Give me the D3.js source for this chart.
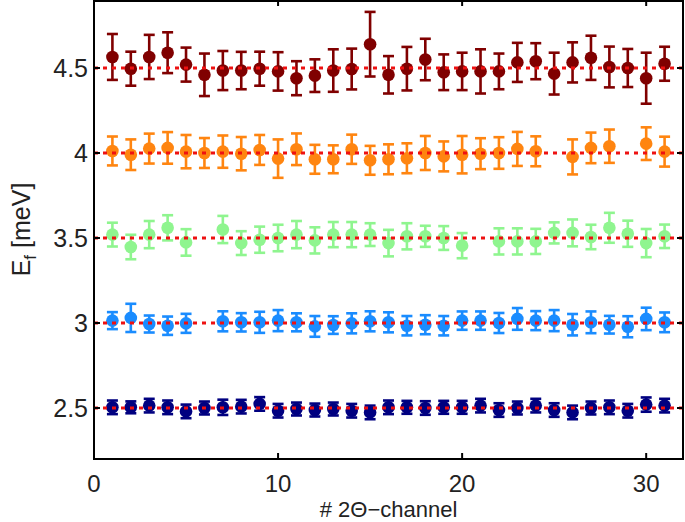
<!DOCTYPE html>
<html><head><meta charset="utf-8">
<script src="https://cdn.jsdelivr.net/npm/d3@7"></script>
<style>
html,body{margin:0;padding:0;background:#fff;}
svg{display:block;font-family:"Liberation Sans",Arial,Helvetica,sans-serif;}
</style></head>
<body>
<script>
// ---- data ----
const channels = d3.range(1, 32);
const nominal = [2.5, 3.0, 3.5, 4.0, 4.5];
const xTicks = [0, 10, 20, 30];
const yTicks = [2.5, 3, 3.5, 4, 4.5];
const seriesColors = ["#000080", "#1a8cff", "#8ff58f", "#ff8510", "#800000"];

const ef25 = [2.504,2.504,2.514,2.504,2.48,2.5,2.504,2.508,2.524,2.484,2.494,2.488,2.494,2.484,2.474,2.504,2.504,2.5,2.504,2.504,2.514,2.488,2.5,2.514,2.488,2.474,2.5,2.504,2.484,2.52,2.514];
const err25 = [0.04,0.035,0.04,0.04,0.04,0.038,0.045,0.04,0.04,0.04,0.038,0.038,0.038,0.04,0.04,0.04,0.038,0.04,0.038,0.038,0.04,0.04,0.038,0.04,0.04,0.04,0.038,0.04,0.04,0.042,0.04];

const ef30 = [3.014,3.03,2.994,2.984,2.998,null,3.01,3.004,3.004,3.014,3.004,2.98,2.988,2.998,3.01,3.004,2.984,2.99,2.984,3.014,3.014,3.0,3.024,3.014,3.014,2.99,3.004,2.99,2.978,3.024,3.004];
const err30 = [0.05,0.083,0.05,0.054,0.056,null,0.059,0.054,0.062,0.062,0.053,0.061,0.052,0.059,0.059,0.059,0.057,0.056,0.057,0.054,0.054,0.059,0.064,0.056,0.062,0.063,0.064,0.052,0.062,0.066,0.058];

const ef35 = [3.52,3.447,3.52,3.56,3.474,null,3.55,3.47,3.49,3.5,3.52,3.486,3.52,3.52,3.52,3.47,3.51,3.51,3.5,3.455,null,3.48,3.48,3.48,3.53,3.53,3.506,3.56,3.525,3.47,3.51];
const err35 = [0.07,0.072,0.08,0.074,0.078,null,0.08,0.07,0.077,0.078,0.08,0.077,0.074,0.074,0.067,0.078,0.077,0.062,0.07,0.074,null,0.077,0.077,0.074,0.062,0.079,0.072,0.088,0.077,0.083,0.069];

const ef40 = [4.012,3.99,4.026,4.03,4.008,4.0,4.008,3.996,4.018,3.967,4.022,3.963,3.963,4.022,3.957,3.963,3.969,4.0,3.98,3.99,3.996,4.0,4.024,4.01,null,3.977,4.03,4.04,null,4.055,4.008];
const err40 = [0.085,0.09,0.088,0.093,0.098,0.088,0.095,0.098,0.088,0.113,0.093,0.085,0.082,0.086,0.085,0.088,0.088,0.1,0.088,0.11,0.091,0.093,0.1,0.088,null,0.103,0.09,0.098,null,0.096,0.088];

const ef45 = [4.565,4.496,4.565,4.59,4.52,4.46,4.485,4.485,4.496,4.48,4.44,4.455,4.485,4.494,4.64,4.46,4.496,4.55,4.475,4.48,4.48,4.48,4.533,4.54,4.467,4.533,4.56,4.506,4.5,4.44,4.525];
const err45 = [0.135,0.1,0.13,0.12,0.1,0.125,0.115,0.11,0.1,0.113,0.1,0.096,0.125,0.12,0.19,0.11,0.128,0.122,0.105,0.11,0.13,0.105,0.115,0.106,0.123,0.118,0.13,0.12,0.112,0.15,0.1];

const seriesValues = [ef25, ef30, ef35, ef40, ef45];
const seriesErrors = [err25, err30, err35, err40, err45];

// ---- layout ----
const W = 685, H = 522;
const L = 94, R = 683, T = 0, B = 459;
const x = d3.scaleLinear().domain([0, 32]).range([L, R]);
const y = d3.scaleLinear().domain([2.2, 4.9]).range([B, T]);

const svg = d3.select("body").append("svg").attr("width", W).attr("height", H);

// error bars + markers
seriesValues.forEach((vals, si) => {
  const pts = channels.map((c, i) => ({c, v: vals[i], e: seriesErrors[si][i]})).filter(d => d.v != null);
  const g = svg.append("g").attr("stroke", seriesColors[si]).attr("fill", seriesColors[si]);
  const capW = 5.5;
  pts.forEach(d => {
    const cx = x(d.c), y0 = y(d.v - d.e), y1 = y(d.v + d.e);
    g.append("line").attr("x1", cx).attr("x2", cx).attr("y1", y0).attr("y2", y1).attr("stroke-width", 2.6);
    g.append("line").attr("x1", cx - capW).attr("x2", cx + capW).attr("y1", y0).attr("y2", y0).attr("stroke-width", 2.6);
    g.append("line").attr("x1", cx - capW).attr("x2", cx + capW).attr("y1", y1).attr("y2", y1).attr("stroke-width", 2.6);
  });
  g.selectAll("circle").data(pts).join("circle")
    .attr("cx", d => x(d.c)).attr("cy", d => y(d.v)).attr("r", 6.3).attr("stroke", "none");
});

// nominal dotted lines
svg.append("g").selectAll("line").data(nominal).join("line")
  .attr("x1", x(0)).attr("x2", x(32))
  .attr("y1", d => y(d)).attr("y2", d => y(d))
  .attr("stroke", "#ee1111").attr("stroke-width", 3)
  .attr("stroke-dasharray", "4,5");

// frame
svg.append("rect").attr("x", L).attr("y", T + 1).attr("width", R - L).attr("height", B - T - 1)
  .attr("fill", "none").attr("stroke", "#000").attr("stroke-width", 2);

// ticks (inward)
const tl = 6;
const tg = svg.append("g").attr("stroke", "#000").attr("stroke-width", 2);
xTicks.filter(t => t > 0).forEach(t => {
  tg.append("line").attr("x1", x(t)).attr("x2", x(t)).attr("y1", B).attr("y2", B - tl);
  tg.append("line").attr("x1", x(t)).attr("x2", x(t)).attr("y1", T).attr("y2", T + tl);
});
yTicks.forEach(t => {
  tg.append("line").attr("x1", L).attr("x2", L + tl).attr("y1", y(t)).attr("y2", y(t));
  tg.append("line").attr("x1", R).attr("x2", R - tl).attr("y1", y(t)).attr("y2", y(t));
});

// tick labels
const fs = 25;
svg.append("g").selectAll("text").data(xTicks).join("text")
  .attr("x", d => x(d)).attr("y", 492).attr("text-anchor", "middle")
  .attr("font-size", 24).attr("fill", "#222").text(d => d);
svg.append("g").selectAll("text").data(yTicks).join("text")
  .attr("x", L - 6).attr("y", d => y(d) + 9).attr("text-anchor", "end")
  .attr("font-size", fs).attr("fill", "#222").text(d => d);

// axis labels
svg.append("text").attr("x", (L + R) / 2).attr("y", 517).attr("text-anchor", "middle")
  .attr("font-size", 22).attr("fill", "#222").text("# 2\u0398\u2212channel");

const yl = svg.append("text").attr("transform", `translate(30,${(T + B) / 2}) rotate(-90)`)
  .attr("text-anchor", "middle").attr("font-size", fs).attr("fill", "#222");
yl.append("tspan").text("E");
yl.append("tspan").attr("font-size", 17).attr("dy", 6).text("f");
yl.append("tspan").attr("dy", -6).text(" [meV]");
</script>
</body></html>
